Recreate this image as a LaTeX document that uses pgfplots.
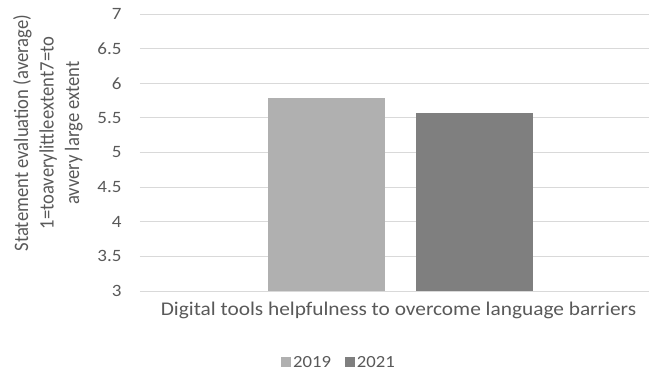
\documentclass[border=0pt]{standalone}
\usepackage{pgfplots}
\pgfplotsset{compat=1.18}
\usepackage{fontspec}
\setmainfont{Carlito}[FakeStretch=1.1]
\newfontfamily\ylfont{Carlito}[FakeStretch=0.909]
\definecolor{txt}{HTML}{595959}
\definecolor{grd}{HTML}{D9D9D9}
\definecolor{cA}{HTML}{B0B0B0}
\definecolor{cB}{HTML}{7F7F7F}
\begin{document}
\begin{tikzpicture}[x=1pt,y=1pt]
\useasboundingbox (0,0) rectangle (649,373);
\begin{axis}[
  at={(140pt,82pt)}, anchor=south west,
  scale only axis, width=509pt, height=277pt,
  ymin=3, ymax=7, ytick={3,3.5,...,7},
  xmin=140, xmax=649, xtick={398.5},
  xticklabels={Digital tools helpfulness to overcome language barriers},
  axis line style={draw=none},
  tick style={draw=none},
  ymajorgrids, grid style={grd, line width=0.9pt},
  /pgf/number format/assume math mode=true,
  yticklabel style={font=\fontsize{17.3}{20}\selectfont, text=txt, xshift=-15pt},
  xticklabel style={font=\fontsize{19.4}{22}\selectfont, text=txt, yshift=-3pt},
  ylabel={Statement evaluation (average)\\1=toaverylittleextent7=to\\avvery large extent},
  ylabel style={font=\ylfont\fontsize{20.5}{25.5}\selectfont, text=txt, align=center, at={(axis description cs:-0.181,0.57)}, anchor=center},
  ybar, bar width=117pt,
  legend style={at={(199pt,-72pt)}, anchor=center, draw=none, inner sep=1pt, legend columns=2, font=\fontsize{17}{20}\selectfont, text=txt, /tikz/every even column/.append style={column sep=12pt}},
  legend image code/.code={\fill[#1] (0pt,-4pt) rectangle (10pt,6pt);},
]
\addplot[fill=cA, draw=none, bar shift=-74pt] coordinates {(400.5,5.78)};
\addplot[fill=cB, draw=none, bar shift=74pt] coordinates {(400.5,5.57)};
\legend{2019,2021}
\end{axis}
\end{tikzpicture}
\end{document}
